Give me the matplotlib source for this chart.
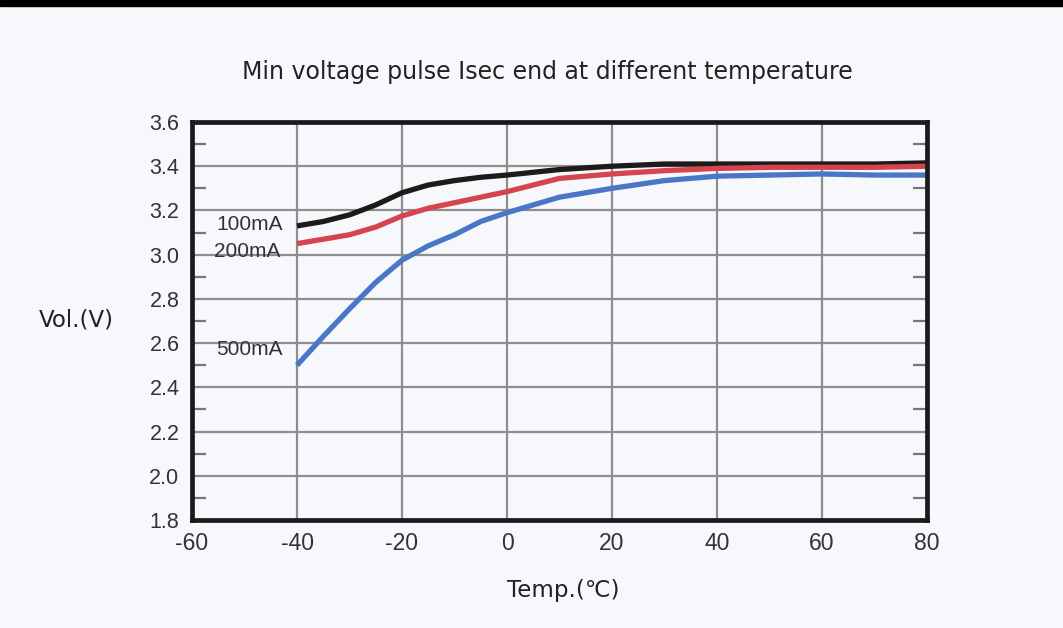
import matplotlib
matplotlib.use("Agg")
import matplotlib.pyplot as plt
from matplotlib.patches import Rectangle

plt.rcParams["font.family"] = ["Liberation Sans", "DejaVu Sans"]
plt.rcParams["axes.unicode_minus"] = False

# temperature points (deg C)
temps = [-40, -35, -30, -25, -20, -15, -10, -5, 0, 10, 20, 30, 40, 50, 60, 70, 80]

# minimum voltage (V) per discharge current
v_100ma = [3.13, 3.15, 3.18, 3.225, 3.28, 3.315, 3.335, 3.35, 3.36, 3.385, 3.40, 3.41, 3.41, 3.41, 3.41, 3.41, 3.415]
v_200ma = [3.05, 3.07, 3.09, 3.125, 3.175, 3.21, 3.235, 3.26, 3.285, 3.345, 3.365, 3.38, 3.39, 3.395, 3.395, 3.395, 3.40]
v_500ma = [2.50, 2.63, 2.755, 2.875, 2.975, 3.04, 3.09, 3.15, 3.19, 3.26, 3.30, 3.335, 3.355, 3.36, 3.365, 3.36, 3.36]

series = [("100mA", v_100ma, "#1e1a1a"),
          ("200mA", v_200ma, "#d5444f"),
          ("500mA", v_500ma, "#4a76c6")]

label_pos = [("100mA", -49, 3.135), ("200mA", -49.5, 3.015), ("500mA", -49, 2.57)]

x_ticks = [-60, -40, -20, 0, 20, 40, 60, 80]
y_ticks = [1.8, 2.0, 2.2, 2.4, 2.6, 2.8, 3.0, 3.2, 3.4, 3.6]
y_minor = [1.9, 2.1, 2.3, 2.5, 2.7, 2.9, 3.1, 3.3, 3.5]

bg = "#f6f8fb"
fig = plt.figure(figsize=(10.63, 6.28), dpi=100, facecolor=bg)
fig.patches.append(Rectangle((0, 1 - 6 / 628), 1, 6 / 628, transform=fig.transFigure,
                             color="black", zorder=10))

ax = fig.add_axes([192 / 1063, 1 - 520 / 628, 735 / 1063, 398 / 628])
ax.set_facecolor(bg)

for name, vals, col in series:
    ax.plot(temps, vals, color=col, lw=3.8, solid_capstyle="butt", zorder=3)

for name, x, y in label_pos:
    ax.text(x, y, name, fontsize=15, color="#333333",
            ha="center", va="center", zorder=4)

ax.set_xlim(-60, 80)
ax.set_ylim(1.8, 3.6)
ax.set_xticks(x_ticks)
ax.set_yticks(y_ticks)
ax.set_yticklabels([f"{v:.1f}" for v in y_ticks])
ax.set_yticks(y_minor, minor=True)
ax.grid(True, which="major", color="#8e8e8e", lw=1.6, zorder=1)
ax.tick_params(axis="both", which="major", length=0, labelcolor="#333333")
ax.tick_params(axis="x", which="major", pad=9, labelsize=16.5)
ax.tick_params(axis="y", which="major", pad=9, labelsize=15.5)
ax.tick_params(axis="y", which="minor", direction="in", length=10, width=1.6,
               color="#777777", left=True, right=True, pad=0)
for sp in ax.spines.values():
    sp.set_linewidth(3.4)
    sp.set_color("#1a1a1a")
    sp.set_zorder(5)

fig.text(547 / 1063, 1 - 72 / 628, "Min voltage pulse Isec end at different temperature",
         ha="center", va="center", fontsize=17, color="#222222", family="DejaVu Sans")
fig.text(76 / 1063, 1 - 320 / 628, "Vol.(V)", ha="center", va="center",
         fontsize=16.5, color="#222222", family="DejaVu Sans")
fig.text(563 / 1063, 1 - 590 / 628, "Temp.(\u2103)", ha="center", va="center",
         fontsize=16.5, color="#222222", family="DejaVu Sans")

fig.savefig("out.png", dpi=100, facecolor=bg)
